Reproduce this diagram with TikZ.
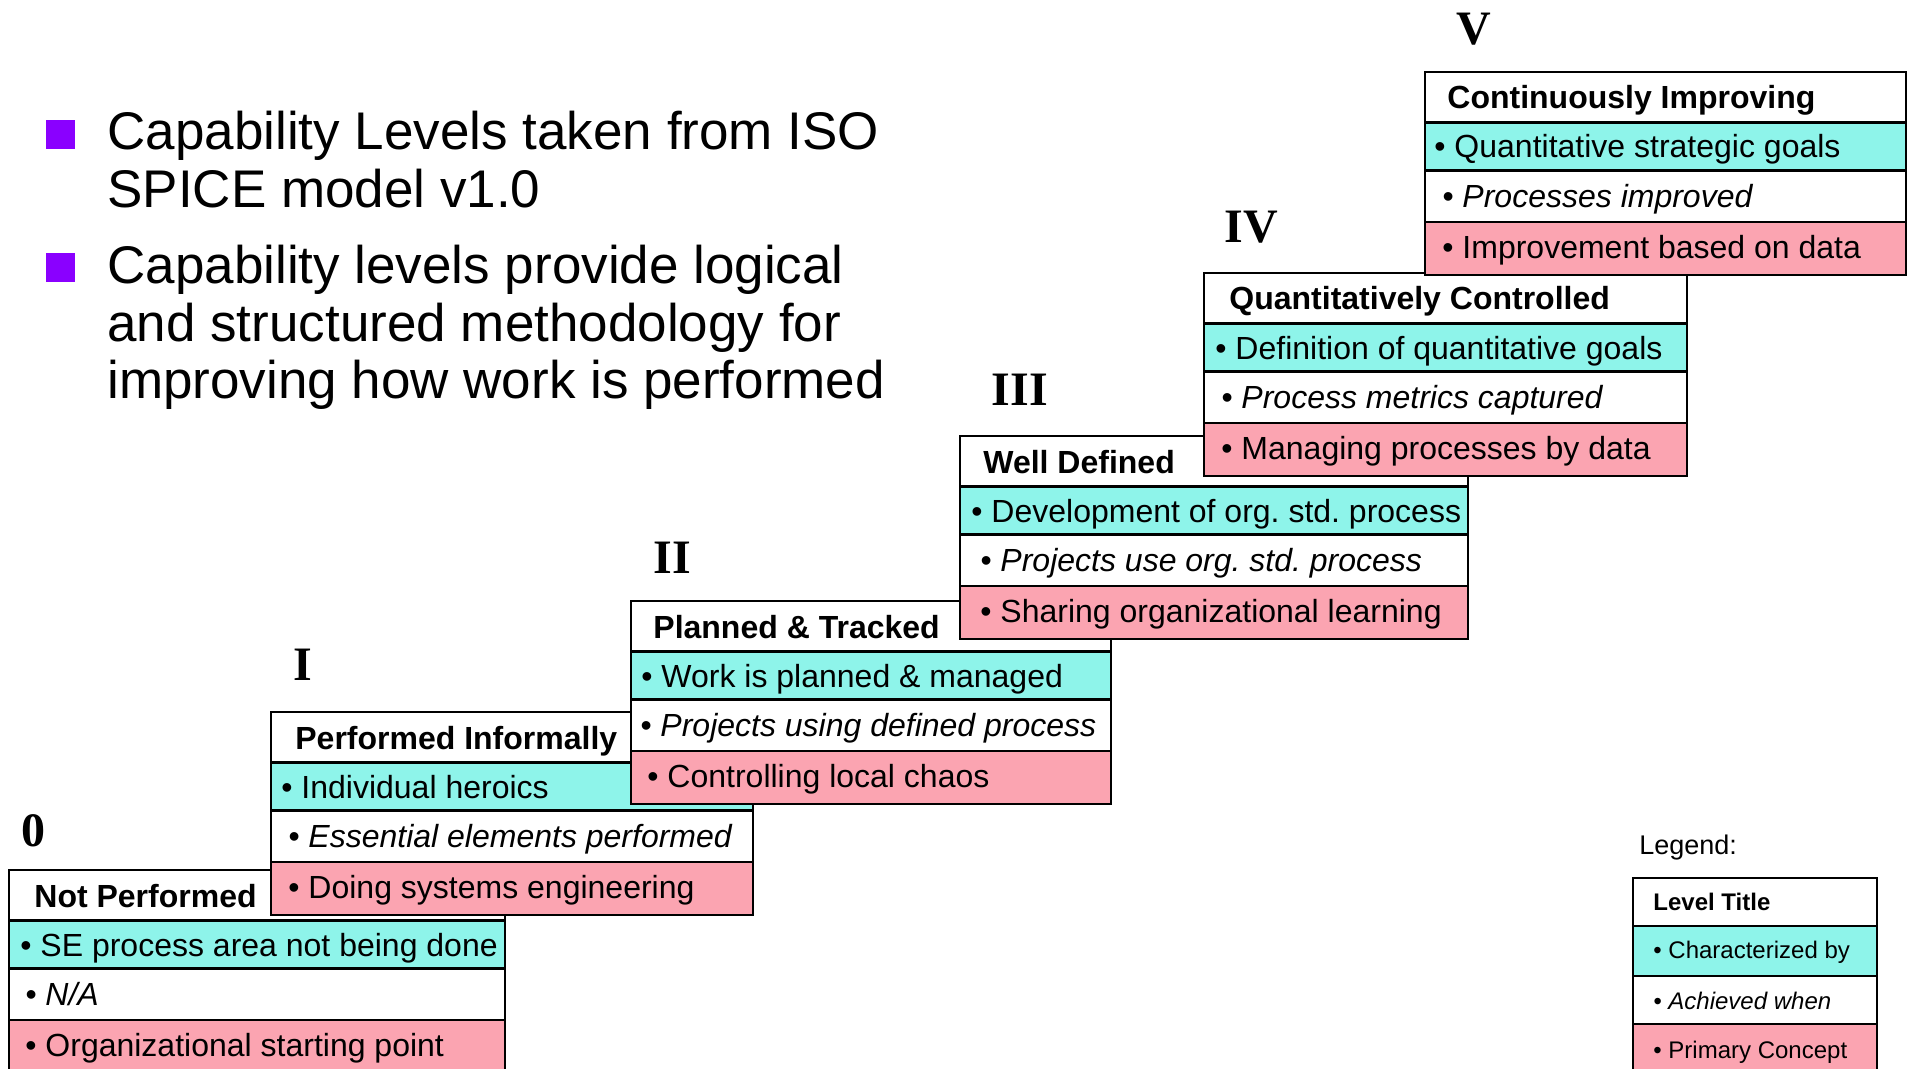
\documentclass[tikz,border=0pt]{standalone}
\usepackage{fontspec}
\setmainfont{Liberation Sans}
\newfontfamily\romfont{Liberation Serif}
\frenchspacing
\definecolor{cyrow}{RGB}{142,244,234}
\definecolor{pkrow}{RGB}{251,164,177}
\definecolor{purp}{RGB}{138,0,255}
\newcommand\lvlrows[3]{%
  \filldraw[rowline, fill=white] (#1,#3) rectangle (#2,#3+50.5);
  \filldraw[rowline, fill=cyrow] (#1,#3+50.5) rectangle (#2,#3+98.5);
  \filldraw[rowline, fill=white] (#1,#3+98.5) rectangle (#2,#3+150);
  \filldraw[rowline, fill=pkrow] (#1,#3+150) rectangle (#2,#3+203);
}
\begin{document}
\frenchspacing
\begin{tikzpicture}[x=0.5pt,y=-0.5pt,
  rowline/.style={draw=black, line width=1.4pt},
  ttl/.style={anchor=base west, inner sep=0pt, font=\fontsize{16}{19}\selectfont\bfseries},
  itm/.style={anchor=base west, inner sep=0pt, font=\fontsize{16}{19}\selectfont},
  itmi/.style={anchor=base west, inner sep=0pt, font=\fontsize{16}{19}\selectfont\itshape},
  roman/.style={inner sep=0pt, font=\romfont\bfseries\fontsize{24}{28}\selectfont},
  lgd/.style={anchor=base west, inner sep=0pt, font=\fontsize{12}{14}\selectfont},
  big/.style={anchor=north west, inner sep=0pt, align=left, font=\fontsize{26.5}{28.75}\selectfont},
  sq/.style={fill=purp, inner sep=0pt, minimum size=14.5pt}]
\useasboundingbox (0,0) rectangle (1910,1069);

% bullets top-left
\node[sq] (sq1) at (60.5,134.5) {};
\node[big] (b1) at (107,111) {Capability Levels taken from ISO\\SPICE model v1.0};
\node[sq] (sq2) at (60.5,267.5) {};
\node[big] (b2) at (107,245) {Capability levels provide logical\\and structured methodology for\\improving how work is performed};

% Level 0
\node[roman] (n0) at (33,831) {0};
\lvlrows{9}{505}{870}
\node[ttl] (l0t) at (34,907) {Not Performed};
\node[itm] (l0c) at (20,956) {• SE process area not being done};
\node[itmi] (l0w) at (25,1005.5) {• N/A};
\node[itm] (l0p) at (25,1056.5) {• Organizational starting point};

% Level I
\node[roman] (n1) at (303,665) {I};
\lvlrows{271}{753}{712}
\node[ttl] (l1t) at (295,749) {Performed Informally};
\node[itm] (l1c) at (281,798) {• Individual heroics};
\node[itmi] (l1w) at (288,847.5) {• Essential elements performed};
\node[itm] (l1p) at (288,898.5) {• Doing systems engineering};

% Level II
\node[roman] (n2) at (672,558) {II};
\lvlrows{631}{1111}{601}
\node[ttl] (l2t) at (653,638) {Planned \& Tracked};
\node[itm] (l2c) at (641,687) {• Work is planned \& managed};
\node[itmi] (l2w) at (640,736.5) {• Projects using defined process};
\node[itm] (l2p) at (647,787.5) {• Controlling local chaos};

% Level III
\node[roman] (n3) at (1020,390) {III};
\lvlrows{960}{1468}{436}
\node[ttl] (l3t) at (983,473) {Well Defined};
\node[itm] (l3c) at (971,522) {• Development of org. std. process};
\node[itmi] (l3w) at (980,571.5) {• Projects use org. std. process};
\node[itm] (l3p) at (980,622.5) {• Sharing organizational learning};

% Level IV
\node[roman] (n4) at (1251,227) {IV};
\lvlrows{1204}{1687}{273}
\node[ttl] (l4t) at (1229,310) {Quantitatively Controlled};
\node[itm] (l4c) at (1215,359) {• Definition of quantitative goals};
\node[itmi] (l4w) at (1221,408.5) {• Process metrics captured};
\node[itm] (l4p) at (1221,459.5) {• Managing processes by data};

% Level V
\node[roman] (n5) at (1474,29) {V};
\lvlrows{1425}{1906}{72}
\node[ttl] (l5t) at (1447,109) {Continuously Improving};
\node[itm] (l5c) at (1434,158) {• Quantitative strategic goals};
\node[itmi] (l5w) at (1442,208) {• Processes improved};
\node[itm] (l5p) at (1442,258.5) {• Improvement based on data};

% Legend
\node[anchor=base west, inner sep=0pt, font=\fontsize{13.5}{16}\selectfont] (lg) at (1639,854) {Legend:};
\filldraw[rowline, fill=white] (1633,878) rectangle (1877,926);
\filldraw[rowline, fill=cyrow] (1633,926) rectangle (1877,976);
\filldraw[rowline, fill=white] (1633,976) rectangle (1877,1024);
\filldraw[rowline, fill=pkrow] (1633,1024) rectangle (1877,1074);
\node[lgd, font=\fontsize{12}{14}\selectfont\bfseries] (lgt) at (1653,910) {Level Title};
\node[lgd] (lgc) at (1653,958) {• Characterized by};
\node[lgd, font=\fontsize{12}{14}\selectfont\itshape] (lgw) at (1653,1009) {• Achieved when};
\node[lgd] (lgp) at (1653,1058) {• Primary Concept};
\end{tikzpicture}
\end{document}
